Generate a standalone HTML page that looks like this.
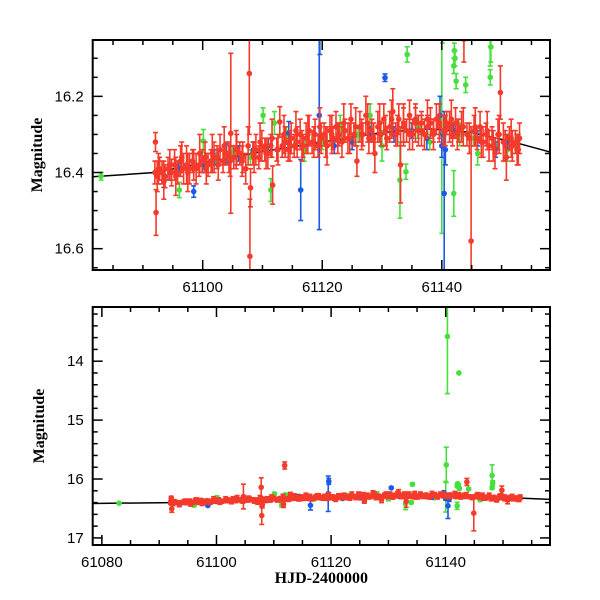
<!DOCTYPE html>
<html><head><meta charset="utf-8"><style>
body{margin:0;background:#fff}
svg{display:block}
.tl{font-family:"Liberation Sans",sans-serif;font-size:15px;fill:#000}
.tt{font-family:"Liberation Serif",serif;font-size:16px;font-weight:bold;fill:#000}
</style></head><body>
<svg id="chart" width="600" height="600" xmlns="http://www.w3.org/2000/svg"></svg>
<script>
const redDays=[61092.0,61092.1,61092.2,61092.4,61092.8,61093.2,61093.7,61094.2,61094.8,61095.3,61095.8,61096.3,61096.8,61097.3,61097.8,61098.3,61098.9,61099.4,61099.9,61100.4,61100.9,61101.4,61101.9,61102.4,61102.9,61103.4,61103.9,61104.4,61104.7,61105.2,61105.7,61106.2,61106.7,61107.2,61107.8,61107.9,61108.0,61108.4,61108.9,61109.4,61109.9,61110.4,61110.9,61111.4,61111.7,61111.9,61112.4,61112.9,61113.3,61113.8,61114.3,61114.8,61115.3,61115.8,61116.3,61116.8,61117.3,61117.8,61118.3,61118.8,61119.3,61119.8,61120.3,61120.8,61121.3,61121.8,61122.3,61122.8,61123.3,61123.8,61124.3,61124.8,61125.3,61125.8,61126.3,61126.8,61127.3,61127.8,61128.3,61128.8,61129.3,61129.8,61130.3,61130.8,61131.3,61131.8,61132.3,61132.8,61133.1,61133.6,61134.1,61134.6,61135.1,61135.6,61136.1,61136.6,61137.1,61137.6,61138.1,61138.6,61139.1,61139.6,61140.3,61140.8,61141.3,61141.8,61142.3,61142.8,61143.3,61143.7,61144.2,61144.9,61145.4,61145.9,61146.4,61146.9,61147.4,61147.9,61148.4,61148.9,61149.4,61149.8,61150.3,61150.8,61151.3,61151.8,61152.3,61152.8,61153.0];
const redMags=[16.40,16.32,16.505,16.41,16.39,16.40,16.41,16.39,16.40,16.38,16.40,16.37,16.39,16.38,16.39,16.37,16.39,16.38,16.37,16.36,16.38,16.37,16.36,16.36,16.34,16.37,16.35,16.36,16.297,16.36,16.34,16.35,16.36,16.39,16.14,16.62,16.44,16.35,16.34,16.36,16.33,16.34,16.35,16.33,16.433,15.77,16.34,16.267,16.33,16.32,16.34,16.31,16.33,16.32,16.30,16.33,16.31,16.29,16.32,16.30,16.33,16.31,16.30,16.33,16.29,16.31,16.28,16.30,16.32,16.29,16.31,16.26,16.30,16.37,16.28,16.30,16.25,16.31,16.29,16.35,16.28,16.30,16.26,16.31,16.28,16.24,16.30,16.26,16.38,16.27,16.29,16.25,16.30,16.26,16.29,16.27,16.30,16.28,16.27,16.29,16.26,16.28,16.29,16.27,16.28,16.30,16.27,16.29,16.28,16.05,16.30,16.58,16.29,16.31,16.28,16.32,16.30,16.33,16.31,16.35,16.30,16.19,16.32,16.36,16.31,16.33,16.32,16.34,16.31];
const redErrs=[.03,.025,.06,.04,.03,.03,.03,.03,.035,.04,.03,.04,.04,.05,.04,.03,.04,.03,.03,.04,.03,.03,.04,.03,.04,.03,.03,.04,.21,.03,.04,.03,.04,.04,.16,.15,.05,.03,.04,.03,.04,.03,.04,.03,.05,.06,.03,.04,.03,.04,.03,.04,.03,.04,.04,.03,.04,.04,.03,.04,.03,.04,.03,.05,.04,.03,.04,.03,.04,.03,.04,.04,.03,.04,.04,.03,.05,.04,.03,.05,.04,.03,.04,.03,.04,.06,.03,.04,.1,.05,.03,.04,.04,.03,.04,.03,.04,.03,.04,.03,.04,.03,.04,.03,.04,.03,.04,.03,.04,.06,.03,.3,.04,.03,.04,.04,.03,.04,.03,.04,.04,.07,.05,.06,.03,.04,.03,.04,.04];
const redExtraDays=[61092.6,61093.5,61094.5,61095.5,61096.5,61097.5,61098.5,61099.5,61100.6,61101.6,61102.6,61103.6,61104.6,61105.6,61106.6,61107.6,61108.6,61109.6,61110.6,61111.6,61112.6,61113.6,61114.6,61115.6,61116.6,61117.6,61118.6,61119.6,61120.6,61121.6,61122.6,61123.6,61124.6,61125.6,61126.6,61127.6,61128.6,61129.6,61130.6,61131.6,61132.6,61133.6,61134.6,61135.6,61136.6,61137.6,61138.6,61139.6,61140.6,61141.6,61142.6,61143.6,61144.6,61145.6,61146.6,61147.6,61148.6,61149.6,61150.6,61151.6,61152.6];
const redExtraMags=[16.39,16.42,16.38,16.41,16.36,16.40,16.38,16.35,16.39,16.35,16.38,16.33,16.37,16.34,16.37,16.33,16.36,16.32,16.35,16.31,16.34,16.30,16.33,16.29,16.33,16.30,16.32,16.28,16.32,16.30,16.31,16.27,16.31,16.28,16.30,16.27,16.31,16.27,16.29,16.26,16.29,16.28,16.30,16.27,16.29,16.26,16.30,16.27,16.29,16.26,16.30,16.28,16.31,16.28,16.32,16.29,16.33,16.30,16.33,16.31,16.34];
const redExtraErrs=[.04,.05,.04,.05,.04,.05,.04,.05,.04,.05,.04,.05,.04,.05,.04,.05,.04,.05,.04,.05,.04,.05,.04,.05,.04,.05,.04,.05,.04,.05,.04,.05,.04,.05,.04,.05,.04,.05,.04,.05,.04,.05,.04,.05,.04,.05,.04,.05,.04,.05,.04,.05,.04,.05,.04,.05,.04,.05,.04,.05,.04];
const blueDays=[61093.5,61094.5,61096,61098.5,61100,61102,61104,61106,61108.5,61111,61114.4,61116.4,61119.5,61119.6,61122,61125,61128,61130.5,61132,61135,61137.5,61139.7,61140.0,61140.4,61140.6,61142,61146,61149,61151];
const blueMags=[16.424,16.40,16.39,16.45,16.38,16.36,16.35,16.35,16.34,16.33,16.296,16.446,16.25,16.04,16.33,16.32,16.30,16.151,16.30,16.29,16.31,16.25,16.33,16.455,16.34,16.29,16.31,16.34,16.32];
const blueErrs=[.015,.02,.02,.015,.02,.02,.025,.02,.02,.02,.03,.08,.3,.05,.02,.02,.02,.01,.02,.02,.03,.05,.03,.215,.04,.02,.02,.02,.02];
const greenDays=[61083.0,61096.1,61100.1,61102,61105,61108,61110.1,61111.4,61112,61114,61117,61120,61123,61126,61128,61130,61133,61134.2,61134.0,61136,61138,61140,61140.3,61140.1,61142.3,61142,61142.1,61142.2,61142.0,61142.4,61143,61144,61145,61146,61148.1,61148.2,61148.1,61149,61151,61152.5];
const greenMags=[16.41,16.446,16.317,16.37,16.35,16.36,16.25,16.446,16.27,16.30,16.34,16.32,16.28,16.30,16.25,16.33,16.42,16.09,16.398,16.28,16.32,16.30,13.58,15.76,14.2,16.455,16.08,16.10,16.12,16.16,16.30,16.17,16.31,16.35,16.15,16.07,15.94,16.33,16.34,16.32];
const greenErrs=[.01,.02,.03,.02,.02,.02,.02,.03,.03,.02,.03,.02,.03,.02,.03,.04,.1,.02,.02,.03,.02,.26,.97,.3,.005,.06,.02,.02,.02,.02,.03,.02,.02,.03,.02,.04,.18,.02,.03,.02];
const modelDays=[61078,61092,61100,61110,61120,61130,61138,61145,61152,61159];
const modelMags=[16.415,16.40,16.375,16.345,16.32,16.295,16.285,16.295,16.32,16.35];
const topYTicks=["16.2","16.4","16.6"];
const botYTicks=["14","15","16","17"];
const xTickLabels=["61080","61100","61120","61140"];

const NS="http://www.w3.org/2000/svg";
const svg=document.getElementById('chart');
function mk(tag,attrs,parent){const e=document.createElementNS(NS,tag);for(const k in attrs)e.setAttribute(k,attrs[k]);(parent||svg).appendChild(e);return e;}
const panels=[
 {id:'top',x0:92.7,x1:550,y0:40,y1:270,d0:61081.6,d1:61158.1,m0:16.052,m1:16.656,yt:topYTicks,ymaj:0.2,ymin:0.05,xl:false},
 {id:'bottom',x0:92.7,x1:550,y0:307,y1:545,d0:61078.4,d1:61158.2,m0:13.08,m1:17.12,yt:botYTicks,ymaj:1,ymin:0.2,xl:true}
];
const colors={red:'#f43a2a',blue:'#1a5ae8',green:'#44e03c'};
panels.forEach(p=>{
 const X=d=>p.x0+(d-p.d0)/(p.d1-p.d0)*(p.x1-p.x0);
 const Y=m=>p.y0+(m-p.m0)/(p.m1-p.m0)*(p.y1-p.y0);
 const g=mk('g',{});
 
 
 const cp=mk('clipPath',{id:'clip-'+p.id},g);
 mk('rect',{x:p.x0,y:p.y0,width:p.x1-p.x0,height:p.y1-p.y0},cp);
 const plot=mk('g',{'clip-path':'url(#clip-'+p.id+')'},g);
 
 
 const line=mk('polyline',{points:modelDays.map((d,i)=>X(d)+','+Y(modelMags[i])).join(' '),fill:'none',stroke:'#000','stroke-width':1.5},plot);
 
 
 const series=[['green',greenDays,greenMags,greenErrs],['blue',blueDays,blueMags,blueErrs],['red',redExtraDays,redExtraMags,redExtraErrs],['red',redDays,redMags,redErrs]];
 series.forEach(s=>{
  const sg=mk('g',{stroke:colors[s[0]],fill:colors[s[0]],'stroke-width':1.6},plot);
  
  
  s[1].forEach((d,i)=>{
   const x=X(d),y=Y(s[2][i]),ya=Y(s[2][i]-s[3][i]),yb=Y(s[2][i]+s[3][i]);
   const pg=mk('g',{},sg);
   
   
   mk('line',{x1:x,x2:x,y1:ya,y2:yb},pg);
   mk('line',{x1:x-2.5,x2:x+2.5,y1:ya,y2:ya},pg);
   mk('line',{x1:x-2.5,x2:x+2.5,y1:yb,y2:yb},pg);
   mk('circle',{cx:x,cy:y,r:2.8,stroke:'none'},pg);
  });
 });
 const tg=mk('g',{stroke:'#000','stroke-width':1.5},g);
 
 
 for(let d=Math.ceil(p.d0/5)*5;d<=p.d1;d+=5){
  const x=X(d),L=(d%20===0)?10:5;
  mk('line',{x1:x,x2:x,y1:p.y1,y2:p.y1-L},tg);
  mk('line',{x1:x,x2:x,y1:p.y0,y2:p.y0+L},tg);
 }
 for(let k=Math.ceil(p.m0/p.ymin-1e-6);k*p.ymin<=p.m1;k++){
  const m=k*p.ymin,y=Y(m);
  const maj=Math.abs(m/p.ymaj-Math.round(m/p.ymaj))<1e-6;
  const L=maj?10:5;
  mk('line',{x1:p.x0,x2:p.x0+L,y1:y,y2:y},tg);
  mk('line',{x1:p.x1,x2:p.x1-L,y1:y,y2:y},tg);
 }
 const fr=mk('rect',{x:p.x0,y:p.y0,width:p.x1-p.x0,height:p.y1-p.y0,fill:'none',stroke:'#000','stroke-width':2},g);
 
 
 p.yt.forEach(t=>{
  const tx=mk('text',{x:p.x0-9,y:Y(parseFloat(t))+5,'text-anchor':'end',class:'tl'},g);
  tx.textContent=t;
  
  
 });
 xTickLabels.forEach(t=>{
  const d=parseFloat(t); if(d<p.d0)return;
  const tx=mk('text',{x:X(d),y:p.y1+22,'text-anchor':'middle',class:'tl'},g);
  tx.textContent=t;
  
  
 });
 const yl=mk('text',{x:0,y:0,transform:'translate('+(p.id==='top'?42:44)+','+((p.y0+p.y1)/2)+') rotate(-90)','text-anchor':'middle',class:'tt'},g);
 yl.textContent='Magnitude';
 
 
 if(p.xl){
  const xl=mk('text',{x:(p.x0+p.x1)/2,y:p.y1+38,'text-anchor':'middle',class:'tt'},g);
  xl.textContent='HJD-2400000';
  
  
 }
});
</script>
</body></html>
